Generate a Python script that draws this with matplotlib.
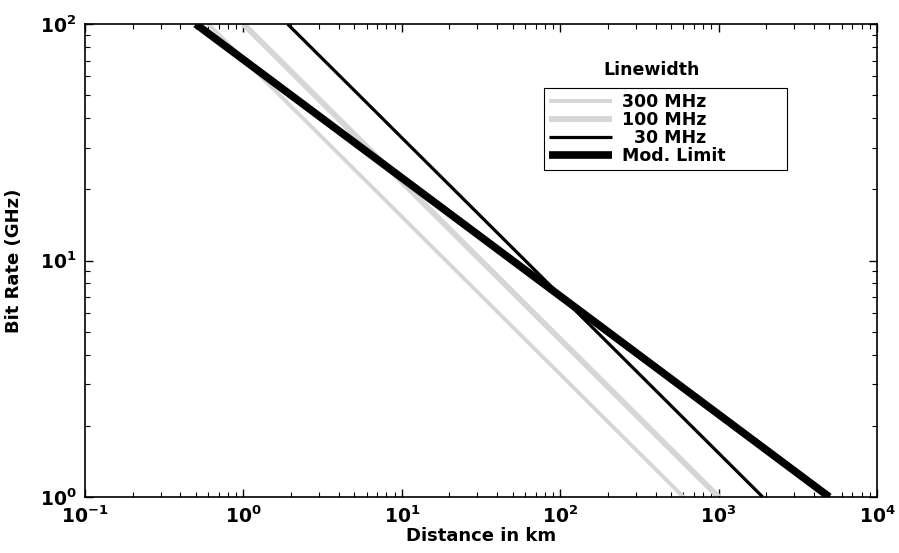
import matplotlib
matplotlib.use("Agg")
import matplotlib.pyplot as plt
from matplotlib.ticker import LogLocator, NullFormatter

plt.rcParams['font.family'] = ['DejaVu Sans']
plt.rcParams['font.weight'] = 'bold'
plt.rcParams['mathtext.fontset'] = 'dejavusans'
plt.rcParams['mathtext.default'] = 'bf'
plt.rcParams['axes.unicode_minus'] = False

labels = ["300 MHz", "100 MHz", "  30 MHz", "Mod. Limit"]
dist_300 = [0.6, 600]
rate_300 = [100, 1]
dist_100 = [1.0, 1000]
rate_100 = [100, 1]
dist_30 = [1.9, 1900]
rate_30 = [100, 1]
dist_mod = [0.5, 5000]
rate_mod = [100, 1]

fig = plt.figure(figsize=(8.99, 5.53), dpi=100)
ax = fig.add_axes([85/899, 1-497/553, (877-85)/899, (497-24)/553])

ax.plot(dist_300, rate_300, color='#d6d6d6', lw=2.8, label=labels[0], solid_capstyle='butt')
ax.plot(dist_100, rate_100, color='#d6d6d6', lw=4.2, label=labels[1], solid_capstyle='butt')
ax.plot(dist_30, rate_30, color='black', lw=2.3, label=labels[2], solid_capstyle='butt')
ax.plot(dist_mod, rate_mod, color='black', lw=5.5, label=labels[3], solid_capstyle='butt')

ax.set_xscale('log')
ax.set_yscale('log')
ax.set_xlim(0.1, 1e4)
ax.set_ylim(1, 100)
ax.xaxis.set_major_locator(LogLocator(base=10, numticks=10))
ax.yaxis.set_major_locator(LogLocator(base=10, numticks=10))
ax.xaxis.set_minor_locator(LogLocator(base=10, subs=range(2, 10), numticks=20))
ax.yaxis.set_minor_locator(LogLocator(base=10, subs=range(2, 10), numticks=20))
ax.xaxis.set_minor_formatter(NullFormatter())
ax.yaxis.set_minor_formatter(NullFormatter())
ax.tick_params(which='both', direction='in', top=True, right=True)
ax.tick_params(which='major', length=6, width=1, labelsize=13.5)
ax.tick_params(axis='x', which='major', pad=6)
ax.tick_params(axis='y', which='major', pad=6)
ax.tick_params(which='minor', length=3.5, width=0.8)
for s in ax.spines.values():
    s.set_linewidth(1.2)

ax.set_xlabel('Distance in km', fontsize=13, fontweight='bold', labelpad=0)
ax.set_ylabel('Bit Rate (GHz)', fontsize=13, fontweight='bold', labelpad=12)

leg = ax.legend(loc='upper left',
                bbox_to_anchor=((544-85)/792, 1-(88-24)/473, (787-544)/792, 0.0),
                mode='expand',
                fancybox=False, edgecolor='black', framealpha=1,
                prop={'weight': 'bold', 'size': 12.5}, handlelength=3.6,
                borderpad=0.3, labelspacing=0.0, handletextpad=0.6,
                borderaxespad=0)
leg.get_frame().set_linewidth(0.8)
ax.text((652-85)/792, 1-(70-24)/473, 'Linewidth', transform=ax.transAxes,
        ha='center', va='center', fontsize=12.5, fontweight='bold')

fig.savefig('out.png', dpi=100)
